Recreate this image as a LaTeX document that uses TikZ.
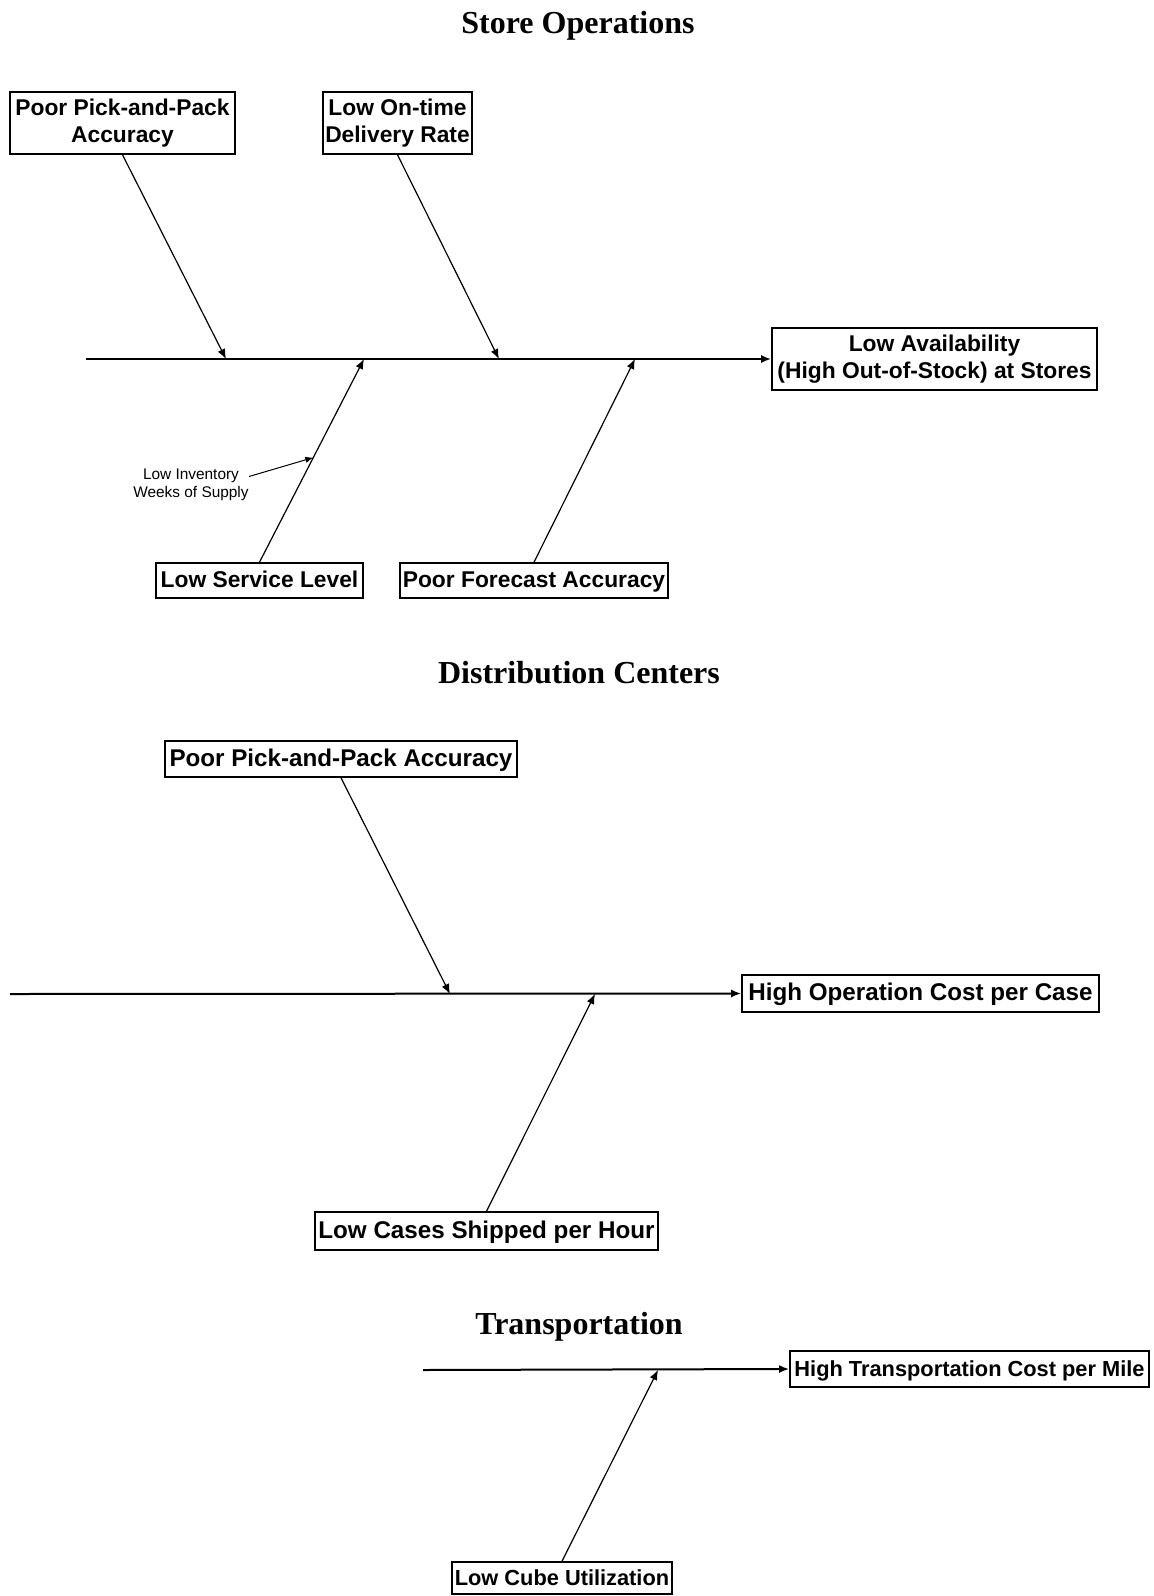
\documentclass[tikz,border=0pt]{standalone}
\usepackage{fontspec}
\setmainfont{Liberation Sans}
\newfontfamily\ttlfont{Liberation Serif}
\usetikzlibrary{arrows.meta,calc}
\begin{document}
\begin{tikzpicture}[x=0.5pt,y=-0.5pt,
  box/.style={draw, line width=0.8pt, align=center, inner sep=0pt,
    font=\bfseries\fontsize{11.4}{13.7}\selectfont},
  oneline/.style={text height=0.72em, text depth=0pt},
  bigbox/.style={box, oneline, font=\bfseries\fontsize{12.1}{14.5}\selectfont},
  smallbox/.style={box, oneline, font=\bfseries\fontsize{10.9}{13}\selectfont},
  ttl/.style={font=\ttlfont\bfseries\fontsize{16}{19}\selectfont},
  spine/.style={line width=1pt, -{Latex[length=5pt,width=4pt]}},
  cause/.style={line width=0.6pt, -{Latex[length=5pt,width=4pt]}},
  note/.style={font=\fontsize{7.7}{9.2}\selectfont, align=center, inner sep=0pt}]
\useasboundingbox (0,0) rectangle (1154,1596);

% ---------------- Store Operations ----------------
\node[ttl] (t1) at (578,26) {Store Operations};
\node[box, minimum width=112.5pt, minimum height=31pt] (pick1) at (122.5,123) {Poor Pick-and-Pack\\Accuracy};
\node[box, minimum width=74.5pt, minimum height=31pt] (ontime) at (397.5,123) {Low On-time\\Delivery Rate};
\node[box, minimum width=162.5pt, minimum height=31pt] (avail) at (934.5,359) {Low Availability\\(High Out-of-Stock) at Stores};
\node[box, oneline, minimum width=103.5pt, minimum height=17.5pt] (lsl) at (259.5,580.5) {Low Service Level};
\node[box, oneline, minimum width=134pt, minimum height=17.5pt] (pfa) at (534,580.5) {Poor Forecast Accuracy};
\node[note] (inv) at (191,484.5) {Low Inventory\\Weeks of Supply};

\coordinate (s0) at (86,359);
\coordinate (s1) at (226,359);
\coordinate (s2) at (499,359);
\coordinate (s3) at (364,359);
\coordinate (s4) at (635,359);
\draw[spine] (s0) -- (avail.west);
\draw[cause] (pick1.south) -- (s1);
\draw[cause] (ontime.south) -- (s2);
\draw[cause] (lsl.north) -- (s3);
\draw[cause] (pfa.north) -- (s4);
\coordinate (invtip) at ($(lsl.north)!0.515!(s3)$);
\draw[cause, line width=0.5pt, -{Latex[length=4pt,width=3.2pt]}] ($(inv.east)+(0,-8)$) -- (invtip);

% ---------------- Distribution Centers ----------------
\node[ttl] (t2) at (579,673) {Distribution Centers};
\node[bigbox, minimum width=176pt, minimum height=18pt] (pick2) at (341,759) {Poor Pick-and-Pack Accuracy};
\node[bigbox, minimum width=178.5pt, minimum height=18.5pt] (hoc) at (920.5,993.5) {High Operation Cost per Case};
\node[bigbox, minimum width=171.5pt, minimum height=19pt] (lcs) at (486.5,1231) {Low Cases Shipped per Hour};

\coordinate (d0) at (10,994);
\coordinate (d1) at (450,994);
\coordinate (d2) at (595,994);
\draw[spine] (d0) -- (hoc.west);
\draw[cause] (pick2.south) -- (d1);
\draw[cause] (lcs.north) -- (d2);

% ---------------- Transportation ----------------
\node[ttl] (t3) at (579,1327) {Transportation};
\node[smallbox, minimum width=179.5pt, minimum height=18pt] (htc) at (969.5,1369) {High Transportation Cost per Mile};
\node[smallbox, minimum width=110pt, minimum height=16pt] (lcu) at (562,1578) {Low Cube Utilization};

\coordinate (r0) at (423,1370);
\coordinate (r1) at (658,1370);
\draw[spine] (r0) -- (htc.west);
\draw[cause] (lcu.north) -- (r1);
\end{tikzpicture}
\end{document}
